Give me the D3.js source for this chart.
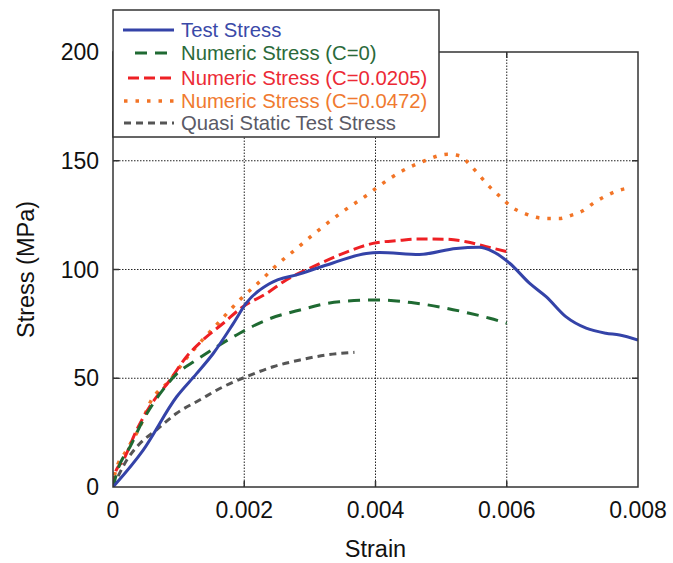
<!DOCTYPE html>
<html>
<head>
<meta charset="utf-8">
<script src="https://cdn.jsdelivr.net/npm/d3@7"></script>
<style>
  html, body { margin: 0; padding: 0; background: #fff; }
  svg { display: block; font-family: "Liberation Sans", Arial, sans-serif; }
</style>
</head>
<body>
<svg id="chart" width="673" height="563"></svg>
<script>
// Strain / stress curves (strain in mm/mm, stress in MPa)
const testStrain   = [0, 0.00046, 0.00097, 0.00127, 0.00153, 0.00183, 0.00203, 0.00239, 0.00285, 0.00335, 0.00386, 0.00406, 0.00467, 0.00523, 0.00558, 0.00579, 0.00604, 0.00635, 0.0066, 0.0069, 0.00721, 0.00751, 0.00772, 0.008];
const testStress   = [0, 17, 41.5, 52, 61.5, 75, 84.5, 93.6, 98, 103, 107.4, 107.8, 106.9, 109.7, 110.2, 108.2, 103, 93.6, 87.5, 78.3, 73, 70.7, 69.9, 67.6];

const c0Strain     = [0, 0.00008, 0.00026, 0.00046, 0.00072, 0.00097, 0.00127, 0.00158, 0.00193, 0.00234, 0.00285, 0.00345, 0.00406, 0.00457, 0.00508, 0.00543, 0.00574, 0.006];
const c0Stress     = [0, 8.6, 18.5, 30.8, 43, 52, 58.4, 64.5, 70.7, 76.8, 81.4, 85.2, 86, 84.7, 82.2, 79.9, 77.6, 75.3];

const c205Strain   = [0, 0.00003, 0.00016, 0.00036, 0.00056, 0.00087, 0.00112, 0.00137, 0.00168, 0.00198, 0.00234, 0.00264, 0.00305, 0.00345, 0.00396, 0.00437, 0.00462, 0.00508, 0.00538, 0.00569, 0.006];
const c205Stress   = [0, 6.3, 12.4, 26.2, 37, 49.2, 59.9, 67.6, 75.3, 82.9, 89, 95.2, 101.3, 106.7, 112, 113.4, 114, 113.9, 112.8, 110.5, 108.2];

const c472Strain   = [0, 0.00003, 0.00021, 0.00041, 0.00056, 0.00087, 0.00112, 0.00127, 0.0016, 0.00193, 0.00229, 0.00244, 0.0028, 0.00315, 0.0035, 0.00386, 0.00406, 0.00439, 0.00475, 0.0051, 0.00528, 0.00543, 0.00558, 0.00574, 0.00591, 0.00609, 0.00627, 0.00645, 0.00662, 0.0068, 0.00698, 0.00716, 0.00733, 0.00751, 0.00769, 0.00787];
const c472Stress   = [0, 6.3, 17, 27.7, 38.5, 49.2, 59.2, 64.5, 75.3, 86, 96, 100.5, 109.7, 118.5, 126.6, 134, 138.5, 145, 150, 153, 152.3, 148.5, 143.4, 138, 133.2, 128.4, 125.8, 124, 123.4, 123.4, 124.9, 127, 130.7, 133.8, 136.2, 137.6];

const quasiStrain  = [0, 0.00021, 0.00041, 0.00066, 0.00097, 0.00132, 0.00168, 0.00203, 0.00244, 0.00285, 0.00325, 0.00368];
const quasiStress  = [0, 12.4, 20, 26.2, 33.9, 40, 46.1, 50.7, 55.3, 58.4, 60.7, 61.9];

const xTicks = [0, 0.002, 0.004, 0.006, 0.008];
const yTicks = [0, 50, 100, 150, 200];

const seriesNames = [
  "Test Stress",
  "Numeric Stress (C=0)",
  "Numeric Stress (C=0.0205)",
  "Numeric Stress (C=0.0472)",
  "Quasi Static Test Stress"
];

const zip = (xs, ys) => xs.map((x, i) => [x, ys[i]]);

const series = [
  { name: seriesNames[0], pts: zip(testStrain, testStress),  color: "#3443a8", text: "#3a4aa8", width: 3,   dash: null },
  { name: seriesNames[1], pts: zip(c0Strain, c0Stress),      color: "#1f6a32", text: "#2a6a3a", width: 3,   dash: "12,8" },
  { name: seriesNames[2], pts: zip(c205Strain, c205Stress),  color: "#ee2024", text: "#ec2a36", width: 3,   dash: "11,5" },
  { name: seriesNames[3], pts: zip(c472Strain, c472Stress),  color: "#f27426", text: "#f07a30", width: 3.5, dash: "3.5,8" },
  { name: seriesNames[4], pts: zip(quasiStrain, quasiStress),color: "#555555", text: "#5a5a66", width: 3,   dash: "7,5" }
];

const svg = d3.select("#chart");
const margin = { left: 113, right: 35, top: 52, bottom: 76 };
const W = 673, H = 563;
const x = d3.scaleLinear().domain([0, 0.008]).range([margin.left, W - margin.right]);
const y = d3.scaleLinear().domain([0, 200]).range([H - margin.bottom, margin.top]);

const x0 = x.range()[0], x1 = x.range()[1], y0 = y.range()[0], y1 = y.range()[1];

// dotted grid
const grid = svg.append("g");
xTicks.slice(1, -1).forEach(t => {
  grid.append("line").attr("x1", x(t)).attr("x2", x(t)).attr("y1", y0).attr("y2", y1)
    .attr("stroke", "#222").attr("stroke-width", 1).attr("stroke-dasharray", "1.5,1.5");
});
yTicks.slice(1, -1).forEach(t => {
  grid.append("line").attr("x1", x0).attr("x2", x1).attr("y1", y(t)).attr("y2", y(t))
    .attr("stroke", "#222").attr("stroke-width", 1).attr("stroke-dasharray", "1.5,1.5");
});

// inward ticks on all four sides
const tickLen = 6;
const axisG = svg.append("g").attr("stroke", "#333").attr("stroke-width", 1.5);
xTicks.slice(1, -1).forEach(t => {
  axisG.append("line").attr("x1", x(t)).attr("x2", x(t)).attr("y1", y0).attr("y2", y0 - tickLen);
  axisG.append("line").attr("x1", x(t)).attr("x2", x(t)).attr("y1", y1).attr("y2", y1 + tickLen);
});
yTicks.slice(1, -1).forEach(t => {
  axisG.append("line").attr("x1", x0).attr("x2", x0 + tickLen).attr("y1", y(t)).attr("y2", y(t));
  axisG.append("line").attr("x1", x1).attr("x2", x1 - tickLen).attr("y1", y(t)).attr("y2", y(t));
});

// clip and curves
svg.append("clipPath").attr("id", "plotClip").append("rect")
  .attr("x", x0).attr("y", y1).attr("width", x1 - x0).attr("height", y0 - y1);

const line = d3.line().x(d => x(d[0])).y(d => y(d[1])).curve(d3.curveMonotoneX);
const curves = svg.append("g").attr("clip-path", "url(#plotClip)");
series.slice().reverse().forEach(s => {
  curves.append("path").datum(s.pts).attr("d", line)
    .attr("fill", "none").attr("stroke", s.color).attr("stroke-width", s.width)
    .attr("stroke-dasharray", s.dash).attr("stroke-linejoin", "round");
});

// frame
svg.append("rect").attr("x", x0).attr("y", y1).attr("width", x1 - x0).attr("height", y0 - y1)
  .attr("fill", "none").attr("stroke", "#333").attr("stroke-width", 1.5);

// tick labels
const tickFont = 23;
const xLab = svg.append("g").attr("font-size", tickFont).attr("fill", "#111").attr("text-anchor", "middle");
xTicks.forEach(t => {
  xLab.append("text").attr("x", x(t)).attr("y", y0 + 31).text(t === 0 ? "0" : d3.format(".3f")(t));
});
const yLab = svg.append("g").attr("font-size", tickFont).attr("fill", "#111").attr("text-anchor", "end");
yTicks.forEach(t => {
  yLab.append("text").attr("x", x0 - 14).attr("y", y(t)).attr("dy", "0.35em").text(t);
});

// axis titles
svg.append("text").attr("x", (x0 + x1) / 2).attr("y", 557).attr("text-anchor", "middle")
  .attr("font-size", 23.5).attr("fill", "#111").text("Strain");
svg.append("text").attr("transform", `translate(34,${(y0 + y1) / 2}) rotate(-90)`)
  .attr("text-anchor", "middle").attr("font-size", 23.5).attr("fill", "#111").text("Stress (MPa)");

// legend
const lg = svg.append("g");
lg.append("rect").attr("x", 113).attr("y", 10).attr("width", 326).attr("height", 127)
  .attr("fill", "#fff").attr("stroke", "#333").attr("stroke-width", 1.5);
const rowY = [30, 53, 78, 101, 123];
const sampleStart = [123, 135, 128, 124, 124];
series.forEach((s, i) => {
  lg.append("line").attr("x1", sampleStart[i]).attr("x2", 174).attr("y1", rowY[i]).attr("y2", rowY[i])
    .attr("stroke", s.color).attr("stroke-width", s.width).attr("stroke-dasharray", s.dash);
  lg.append("text").attr("x", 181).attr("y", rowY[i]).attr("dy", "0.36em")
    .attr("font-size", 20.3).attr("fill", s.text).text(s.name);
});
</script>
</body>
</html>
